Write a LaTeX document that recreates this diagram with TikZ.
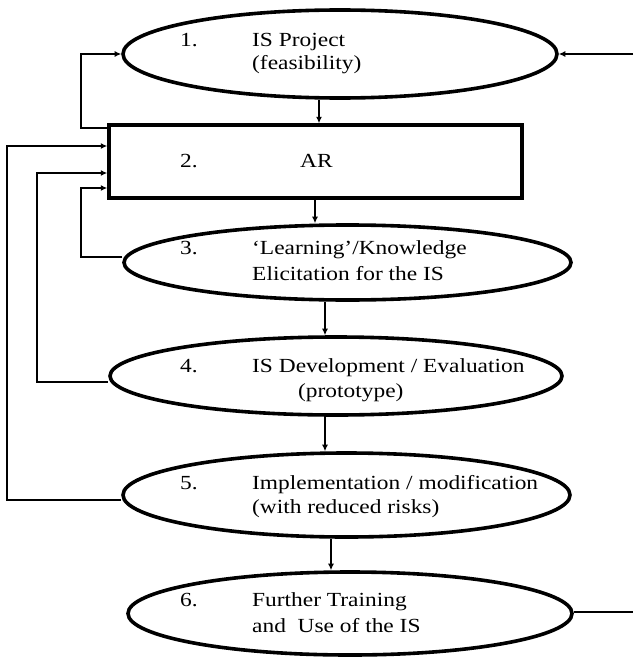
\documentclass[tikz,border=0pt]{standalone}
\usepackage{fontspec}
\setmainfont{Liberation Serif}[FakeStretch=1.17]
\usetikzlibrary{shapes.geometric,arrows.meta}

\begin{document}
\begin{tikzpicture}[x=1pt,y=-1pt,
  font=\fontsize{20}{24}\selectfont,
  stage/.style={draw, ellipse, line width=3.6pt, inner sep=0pt},
  stagebox/.style={draw, rectangle, line width=3.5pt, inner sep=0pt},
  txt/.style={anchor=base west, inner sep=0pt},
  link/.style={line width=1.2pt},
  arr/.style={link, -{Latex[length=6.5pt,width=6pt]}}]
\useasboundingbox (0,0) rectangle (633,661);

\node[stage, minimum width=434pt, minimum height=88pt] (1) at (340,54) {};
\node[stagebox, minimum width=413pt, minimum height=73pt] (2) at (315.5,161.5) {};
\node[stage, minimum width=447pt, minimum height=75pt] (3) at (347.5,262.5) {};
\node[stage, minimum width=452pt, minimum height=78pt] (4) at (336,376) {};
\node[stage, minimum width=447pt, minimum height=84pt] (5) at (346.5,495) {};
\node[stage, minimum width=444pt, minimum height=83pt] (6) at (350,613.5) {};

% texts
\node[txt] (n1) at (180,47) {1.};
\node[txt] (t1a) at (252,47) {IS Project};
\node[txt] (t1b) at (252,70) {(feasibility)};
\node[txt] (n2) at (180,167) {2.};
\node[txt] (t2) at (300,167) {AR};
\node[txt] (n3) at (180,254) {3.};
\node[txt] (t3a) at (252,254) {`Learning'/Knowledge};
\node[txt] (t3b) at (252,280) {Elicitation for the IS};
\node[txt] (n4) at (180,372) {4.};
\node[txt] (t4a) at (252,372) {IS Development / Evaluation};
\node[txt] (t4b) at (298,397) {(prototype)};
\node[txt] (n5) at (180,489) {5.};
\node[txt] (t5a) at (252,489) {Implementation / modification};
\node[txt] (t5b) at (252,513) {(with reduced risks)};
\node[txt] (n6) at (180,606) {6.};
\node[txt] (t6a) at (252,606) {Further Training};
\node[txt] (t6b) at (252,632) {and\ \ Use of the IS};

% columns and corners
\coordinate (c12) at (319,0);
\coordinate (c23) at (315,0);
\coordinate (c34) at (325,0);
\coordinate (c45) at (325,0);
\coordinate (c56) at (331,0);
\coordinate (k1) at (81,128);
\coordinate (k3) at (81,257);
\coordinate (k4) at (37,382);
\coordinate (k5) at (7,500);
\coordinate (r1) at (633,54);
\coordinate (r6) at (633,612);

\path[draw,arr] (c12 |- 1.south) -- (c12 |- 2.north);
\path[draw,arr] (c23 |- 2.south) -- (c23 |- 3.north);
\path[draw,arr] (c34 |- 3.south) -- (c34 |- 4.north);
\path[draw,arr] (c45 |- 4.south) -- (c45 |- 5.north);
\path[draw,arr] (c56 |- 5.south) -- (c56 |- 6.north);

\path[draw,arr] (k1 -| 2.west) -- (k1) |- (1.west);
\path[draw,arr] (k3 -| 3.west) -- (k3) |- ([yshift=-26.5pt]2.west);
\path[draw,arr] (k4 -| 4.west) -- (k4) |- ([yshift=-11.5pt]2.west);
\path[draw,arr] (k5 -| 5.west) -- (k5) |- ([yshift=15.5pt]2.west);
\path[draw,arr] (r1) -- (1.east);
\path[draw,link] (r6 -| 6.east) -- (r6);
\end{tikzpicture}
\end{document}
